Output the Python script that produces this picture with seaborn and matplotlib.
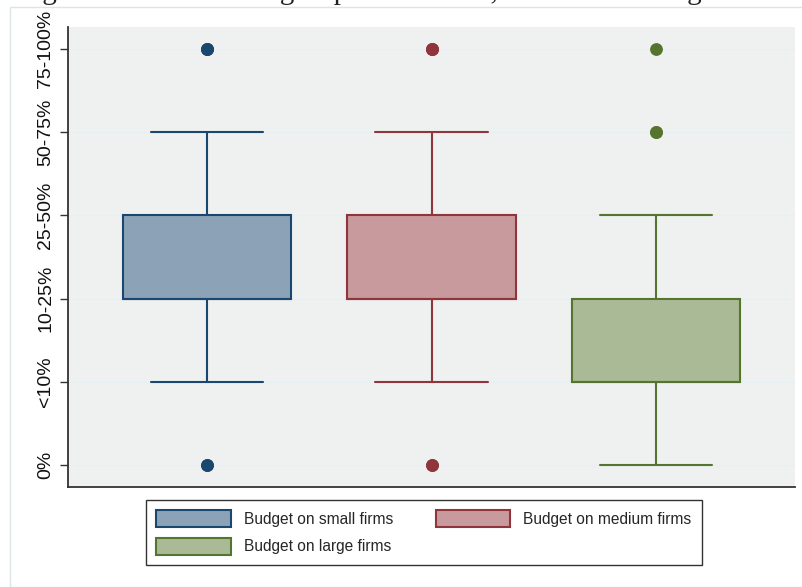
import numpy as np
import pandas as pd
import seaborn as sns
import matplotlib.pyplot as plt
from matplotlib.patches import Patch, Rectangle

# ---- data ----
levels = ["0%", "<10%", "10-25%", "25-50%", "50-75%", "75-100%"]
categories = ["Budget on small firms", "Budget on medium firms", "Budget on large firms"]
# number of responses per budget-share level (0 .. 5)
counts_small = [2, 10, 25, 20, 8, 3]
counts_medium = [2, 9, 24, 22, 9, 3]
counts_large = [8, 25, 20, 6, 2, 1]

fills = ["#8CA3B7", "#C89A9D", "#AABA97"]
edges = ["#1A476F", "#90353B", "#55752F"]

rows = []
for cat, cnts in zip(categories, [counts_small, counts_medium, counts_large]):
    vals = np.repeat(np.arange(len(levels)), cnts)
    rows.append(pd.DataFrame({"group": cat, "value": vals}))
df = pd.concat(rows, ignore_index=True)

sns.set_theme(style="white")
plt.rcParams["font.family"] = ["Liberation Sans", "DejaVu Sans"]
sans = ["Liberation Sans", "DejaVu Sans"]

fig = plt.figure(figsize=(8.02, 5.87), dpi=100)
ax = fig.add_axes([68 / 802, 100 / 587, 727 / 802, 460 / 587])
ax.set_facecolor("#EEF1F0")

for cat, fc, ec in zip(categories, fills, edges):
    sub = df[df["group"] == cat]
    sns.boxplot(data=sub, x="group", y="value", order=categories, color=fc,
                linecolor=ec, linewidth=1.5, width=0.75, saturation=1,
                whis=1.5, capwidths=0.5, fliersize=8.2,
                flierprops=dict(marker="o", markerfacecolor=ec,
                                markeredgecolor=ec, markersize=8.2),
                ax=ax, zorder=3)

ax.set_xlim(-0.619, 2.619)
ax.set_ylim(-0.26, 5.26)
ax.set_yticks(range(len(levels)))
ax.set_yticklabels(levels, rotation=90, va="center", fontsize=14, color="#111111",
                   fontfamily=sans)
for t in ax.get_yticklabels():
    t.set_fontfamily(sans)
ax.set_xticks([])
ax.set_xlabel("")
ax.set_ylabel("")
ax.tick_params(axis="y", length=6, width=1, color="#333333", pad=4, left=True)
ax.yaxis.grid(True, color="#E6EFF1", linewidth=1.0, zorder=0)
ax.set_axisbelow(True)
for s in ["top", "right"]:
    ax.spines[s].set_visible(False)
for s in ["left", "bottom"]:
    ax.spines[s].set_color("#333333")
    ax.spines[s].set_linewidth(1.3)

# legend (row-wise order: small, medium / large)
handles = [Patch(facecolor=f, edgecolor=e, linewidth=1.5, label=c)
           for c, f, e in zip(categories, fills, edges)]
order = [0, 2, 1]
leg = fig.legend([handles[i] for i in order], [categories[i] for i in order],
                 ncol=2, loc="upper center", bbox_to_anchor=(424 / 802, 1 - 500 / 587),
                 borderaxespad=0, prop=dict(family=sans, size=11.2),
                 handlelength=4.8, handleheight=1.28, handletextpad=0.85,
                 columnspacing=2.7, labelspacing=0.7, borderpad=0.65,
                 frameon=True, fancybox=False, framealpha=1, edgecolor="#333333")
leg.get_frame().set_linewidth(1.0)

# outer graph-region border
fig.patches.append(Rectangle((10 / 802, 0), 1, 1 - 7 / 587, transform=fig.transFigure,
                             fill=False, edgecolor="#DCE5E5", linewidth=1.0, zorder=0))

# title (clipped at the top in the reference)
fig.text(0.5, 1 + 1 / 587, "Figure 1: Share of budget spent on small, medium and large firms",
         ha="center", va="baseline", fontsize=21, family=["Liberation Serif", "DejaVu Serif"],
         color="#222222")

fig.savefig("out.png", dpi=100)
